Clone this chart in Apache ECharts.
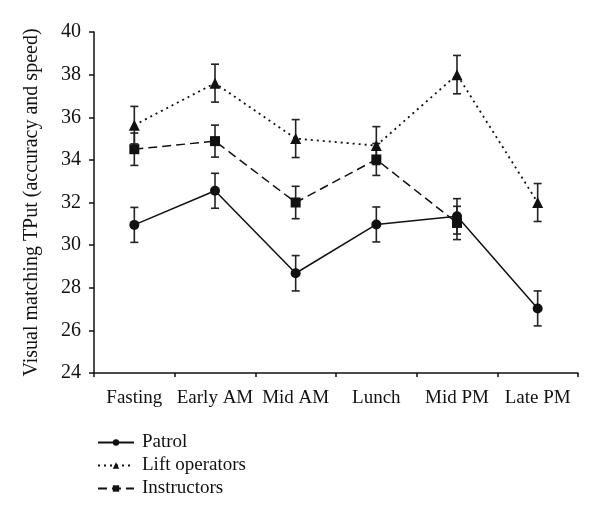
<!DOCTYPE html>
<html><head><meta charset="utf-8">
<script src="https://cdn.jsdelivr.net/npm/echarts@6/dist/echarts.min.js"></script>
<style>html,body{margin:0;padding:0;background:#fff}#c{width:600px;height:522px}</style>
</head><body><div id="c"></div>
<script>
const categories = ["Fasting","Early AM","Mid AM","Lunch","Mid PM","Late PM"];
const patrol = [30.95, 32.55, 28.68, 30.97, 31.35, 27.03];
const patrolErr = [0.82, 0.82, 0.83, 0.82, 0.83, 0.82];
const lift = [35.63, 37.6, 35.0, 34.67, 38.0, 32.0];
const liftErr = [0.88, 0.89, 0.89, 0.89, 0.9, 0.89];
const instructors = [34.5, 34.88, 32.0, 34.02, 31.04, null];
const instructorsErr = [0.76, 0.75, 0.76, 0.75, 0.78, null];
const yTicks = [24, 26, 28, 30, 32, 34, 36, 38, 40];

const FONT = "Liberation Serif";
function errData(vals, errs){
  return vals.map((v,i)=> v==null?null:[i, v-errs[i], v+errs[i]]).filter(d=>d);
}
function errSeries(vals, errs){
  return {
    type:'custom', silent:true, z:1,
    data: errData(vals, errs),
    encode:{x:0, y:[1,2]},
    renderItem: function(params, api){
      const x = api.value(0);
      const lo = api.coord([x, api.value(1)]);
      const hi = api.coord([x, api.value(2)]);
      const w = 4;
      const st = {stroke:'#222', lineWidth:1.6, fill:null};
      return {type:'group', children:[
        {type:'line', shape:{x1:lo[0],y1:lo[1],x2:hi[0],y2:hi[1]}, style:st},
        {type:'line', shape:{x1:lo[0]-w,y1:lo[1],x2:lo[0]+w,y2:lo[1]}, style:st},
        {type:'line', shape:{x1:hi[0]-w,y1:hi[1],x2:hi[0]+w,y2:hi[1]}, style:st}
      ]};
    }
  };
}
const chart = echarts.init(document.getElementById('c'), null, {renderer:'canvas'});
chart.setOption({
  animation:false,
  backgroundColor:'#fff',
  textStyle:{fontFamily:FONT, color:'#111'},
  grid:{left:94, right:22, top:32, bottom:149},
  xAxis:{
    type:'category', data:categories, boundaryGap:true,
    axisLine:{lineStyle:{color:'#111', width:1.5}},
    axisTick:{show:true, length:4, inside:false, lineStyle:{color:'#111', width:1.5}},
    axisLabel:{fontFamily:FONT, fontSize:19, color:'#111', margin:16, interval:0},
    splitLine:{show:false}
  },
  yAxis:{
    type:'value', min:yTicks[0], max:yTicks[yTicks.length-1], interval:2,
    name:'Visual matching TPut (accuracy and speed)', nameLocation:'middle', nameGap:52,
    nameTextStyle:{fontFamily:FONT, fontSize:20, color:'#111'},
    axisLine:{show:true, lineStyle:{color:'#111', width:1.5}},
    axisTick:{show:true, length:5, lineStyle:{color:'#111', width:1.5}},
    axisLabel:{fontFamily:FONT, fontSize:20, color:'#111', margin:13},
    splitLine:{show:false}
  },
  legend:{
    orient:'vertical', left:92, top:428, itemGap:4, itemWidth:36, itemHeight:8,
    textStyle:{fontFamily:FONT, fontSize:19, color:'#111', padding:[0,0,0,3]},
    data:['Patrol','Lift operators','Instructors']
  },
  series:[
    errSeries(patrol, patrolErr),
    errSeries(lift, liftErr),
    errSeries(instructors, instructorsErr),
    {name:'Patrol', type:'line', data:patrol, symbol:'circle', symbolSize:10, z:3,
      lineStyle:{color:'#111', width:1.5, type:'solid'}, itemStyle:{color:'#111'}},
    {name:'Lift operators', type:'line', data:lift, symbol:'triangle', symbolSize:11, z:3,
      lineStyle:{color:'#111', width:1.8, type:[2,4]}, itemStyle:{color:'#111'}},
    {name:'Instructors', type:'line', data:instructors, symbol:'rect', symbolSize:10, z:3, connectNulls:false,
      lineStyle:{color:'#111', width:1.5, type:[9,5]}, itemStyle:{color:'#111'}}
  ]
});
</script></body></html>
